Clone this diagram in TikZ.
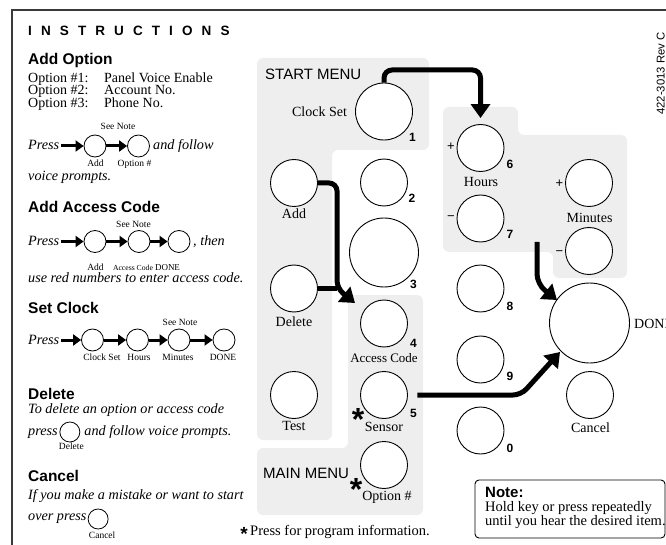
\documentclass[tikz,border=0pt]{standalone}
\usepackage{fontspec}
\setmainfont{Liberation Serif}
\newfontfamily\sansf{Liberation Sans}
\usetikzlibrary{arrows.meta,calc}
\definecolor{panelgray}{HTML}{EEEEEE}
\definecolor{framegray}{HTML}{3A3A3A}
\tikzset{
  btn/.style={circle,draw=black,line width=0.9pt,fill=white,inner sep=0pt,minimum size=47pt},
  mini/.style={circle,draw=black,line width=0.8pt,fill=white,inner sep=0pt,minimum size=22pt},
  blab/.style={font=\fontsize{14}{14}\selectfont,inner sep=0pt,anchor=base},
  slab/.style={font=\fontsize{9.5}{9.5}\selectfont,inner sep=0pt,anchor=base},
  numlab/.style={font=\sansf\bfseries\fontsize{12}{12}\selectfont,inner sep=0pt,anchor=base},
  pm/.style={font=\sansf\fontsize{13}{13}\selectfont,inner sep=0pt},
  menu/.style={font=\sansf\fontsize{15}{15}\selectfont,inner sep=0pt,anchor=base west},
  head/.style={font=\sansf\bfseries\fontsize{15.5}{15.5}\selectfont,inner sep=0pt,anchor=base west},
  body/.style={font=\fontsize{14.5}{14.5}\selectfont,inner sep=0pt,anchor=base west},
  itx/.style={font=\itshape\fontsize{14.2}{14.2}\selectfont,inner sep=0pt,anchor=base west},
  star/.style={font=\sansf\bfseries\fontsize{32}{32}\selectfont,inner sep=0pt,anchor=base},
  bigarrow/.style={line width=5pt,rounded corners=8pt,-{Triangle[length=14pt,width=19pt]}},
  miniarrow/.style={line width=3pt,-{Triangle[length=8pt,width=11pt]}},
  panelbox/.style={fill=panelgray,rounded corners=6pt},
}
\begin{document}
\begin{tikzpicture}[x=1pt,y=-1pt]
\useasboundingbox (0,0) rectangle (666,545);
% frame
\draw[framegray,line width=1.2pt] (12,545) -- (12,10) -- (666,10);
\node[font=\sansf\fontsize{11.3}{11.3}\selectfont,inner sep=0pt,rotate=90,anchor=base west] (rev) at (664.5,115) {422-3013 Rev C};

% ---------------- left instructions ----------------
\node[font=\sansf\bfseries\fontsize{13.5}{13.5}\selectfont,inner sep=0pt,anchor=base west] (instr) at (28,36)
  {I\kern9.1pt N\kern9.1pt S\kern9.1pt T\kern9.1pt R\kern9.1pt U\kern9.1pt C\kern9.1pt T\kern9.1pt I\kern9.1pt O\kern9.1pt N\kern9.1pt S};

\node[head] (h1) at (28,65) {Add Option};
\node[body,font=\fontsize{14}{14}\selectfont] (o1a) at (28,82.5) {Option \#1:};
\node[body,font=\fontsize{14}{14}\selectfont] (o1b) at (104,82.5) {Panel Voice Enable};
\node[body,font=\fontsize{14}{14}\selectfont] (o2a) at (28,95) {Option \#2:};
\node[body,font=\fontsize{14}{14}\selectfont] (o2b) at (104,95) {Account No.};
\node[body,font=\fontsize{14}{14}\selectfont] (o3a) at (28,107.5) {Option \#3:};
\node[body,font=\fontsize{14}{14}\selectfont] (o3b) at (104,107.5) {Phone No.};

% row 1
\node[slab] (sn1) at (118,130) {See Note};
\node[itx] (pr1) at (28,150) {Press};
\node[mini] (r1a) at (95,146) {};
\node[mini] (r1b) at (138.5,146) {};
\draw[miniarrow,shorten <=1.5pt] (pr1.east |- r1a) -- (r1a.west);
\draw[miniarrow] (r1a) -- (r1b);
\node[itx] (af1) at (153,150) {and follow};
\node[slab] (l1a) at (95.5,166.5) {Add};
\node[slab] (l1b) at (134.5,166.5) {Option \#};
\node[itx] (vp) at (28,181) {voice prompts.};

% row 2
\node[head] (h2) at (28,213) {Add Access Code};
\node[slab] (sn2) at (133.5,227.5) {See Note};
\node[itx] (pr2) at (28,246) {Press};
\node[mini] (r2a) at (95,241.5) {};
\node[mini] (r2b) at (139,241.5) {};
\node[mini] (r2c) at (179,241.5) {};
\draw[miniarrow,shorten <=1.5pt] (pr2.east |- r2a) -- (r2a.west);
\draw[miniarrow] (r2a) -- (r2b);
\draw[miniarrow] (r2b) -- (r2c);
\node[itx] (then) at (193,246) {, then};
\node[slab] (l2a) at (95.5,270) {Add};
\node[slab,font=\fontsize{7.7}{7.7}\selectfont] (l2b) at (133,270) {Access Code};
\node[slab,font=\fontsize{9}{9}\selectfont] (l2c) at (167.5,270) {DONE};
\node[itx] (urn) at (28,282) {use red numbers to enter access code.};

% row 3
\node[head] (h3) at (28,313) {Set Clock};
\node[slab] (sn3) at (180,325) {See Note};
\node[itx] (pr3) at (28,344) {Press};
\node[mini] (r3a) at (92.5,340) {};
\node[mini] (r3b) at (137.5,340) {};
\node[mini] (r3c) at (179,340) {};
\node[mini] (r3d) at (224,340) {};
\draw[miniarrow,shorten <=1.5pt] (pr3.east |- r3a) -- (r3a.west);
\draw[miniarrow] (r3a) -- (r3b);
\draw[miniarrow] (r3b) -- (r3c);
\draw[miniarrow] (r3c) -- (r3d);
\node[slab] (l3a) at (102,360) {Clock Set};
\node[slab] (l3b) at (139,360) {Hours};
\node[slab] (l3c) at (178,360) {Minutes};
\node[slab] (l3d) at (223,360) {DONE};

% delete
\node[head] (h4) at (28,399) {Delete};
\node[itx] (td) at (28,413) {To delete an option or access code};
\node[itx] (prd) at (28,435) {press};
\node[mini,minimum size=20pt] (cd) at ($(prd.base east)+(12,-3)$) {};
\node[itx] (afd) at ($(cd.east)+(4,3)$) {and follow voice prompts.};
\node[slab] (ld) at ($(cd)+(1.5,17)$) {Delete};

% cancel
\node[head] (h5) at (28,481) {Cancel};
\node[itx] (iy) at (28,499) {If you make a mistake or want to start};
\node[itx] (op) at (28,520) {over press};
\node[mini,minimum size=20pt] (cc) at ($(op.base east)+(11.5,-1)$) {};
\node[slab] (lc) at ($(cc)+(4,19)$) {Cancel};

% ---------------- panels ----------------
\fill[panelbox] (257,58) -- (429,58) -- (429,150) -- (332,150) -- (332,440) -- (257,440) -- cycle;
\fill[panelbox] (348,295) -- (423,295) -- (423,515) -- (257,515) -- (257,448) -- (348,448) -- cycle;
\fill[panelbox] (443,107) -- (518,107) -- (518,135) -- (627,135) -- (627,278) -- (553,278) -- (553,252) -- (443,252) -- cycle;

\node[menu] (startlbl) at (265,80) {START MENU};
\node[menu] (mainlbl) at (263,478) {MAIN MENU};

% ---------------- connector corners ----------------
\coordinate (c1) at (480.5,70);
\coordinate (jn) at (337,288.5);
\coordinate (tip4) at (355,303);
\coordinate (h0) at (537,242);
\coordinate (h1) at (537,284);
\coordinate (tipd) at (557,300);
\coordinate (s1) at (521,395);
\coordinate (tips) at (560,352);

% ---------------- buttons ----------------
\node[btn,minimum size=57pt] (b1) at (384,111.5) {};
\node[btn] (badd) at (294,183) {};
\node[btn] (b2) at (384,182.5) {};
\node[btn,minimum size=69pt] (b3) at (384,252.5) {};
\node[btn] (bdel) at (294,288.5) {};
\node[btn] (btest) at (294,395) {};
\node[btn] (b4) at (384,323.5) {};
\node[btn] (b5) at (384,395) {};
\node[btn] (bopt) at (384,465) {};
\node[btn] (b6) at (480.5,148) {};
\node[btn] (b7) at (480.5,218.5) {};
\node[btn] (bminp) at (589,183) {};
\node[btn] (bminm) at (589,251) {};
\node[btn] (b8) at (480.5,288.5) {};
\node[btn] (b9) at (480.5,359.5) {};
\node[btn] (b0) at (480.5,430.5) {};
\node[btn,minimum size=80pt] (bdone) at (589.5,323) {};
\node[btn] (bcancel) at (590,395) {};

\draw[bigarrow,shorten >=6pt] (b1.north) |- (c1) -- (b6.north);
\draw[line width=5pt] (bdel.east) -- (jn);
\draw[bigarrow] (badd.east) -| (jn) -- (tip4);
\draw[bigarrow,rounded corners=10pt] (h0) -- (h1) -- (tipd);
\draw[bigarrow,shorten <=9.5pt] (b5.east) -- (s1) -- (tips);

% button labels
\node[blab] (lclock) at (319.5,117) {Clock Set};
\node[blab] (ladd) at (294,219) {Add};
\node[blab] (ldel) at (294,326) {Delete};
\node[blab] (ltest) at (294,430) {Test};
\node[blab,font=\fontsize{13}{13}\selectfont] (lac) at (384,362) {Access Code};
\node[blab] (lsens) at (384,431) {Sensor};
\node[blab] (lopt) at (387,500) {Option \#};
\node[blab] (lhours) at (481,187) {Hours};
\node[blab] (lmin) at (589.5,223) {Minutes};
\node[blab] (lcan) at (590.5,432) {Cancel};
\node[blab,anchor=base west] (ldone) at (634,328) {DONE};

% numbers
\node[numlab] (n1) at ($(b1)+(28.5,30.5)$) {1};
\node[numlab] (n2) at ($(b2)+(28,20.5)$) {2};
\node[numlab] (n3) at ($(b3)+(29.5,35.5)$) {3};
\node[numlab] (n4) at ($(b4)+(29.5,23.5)$) {4};
\node[numlab] (n5) at ($(b5)+(29.5,22)$) {5};
\node[numlab] (n6) at ($(b6)+(29.5,21)$) {6};
\node[numlab] (n7) at ($(b7)+(29.5,20.5)$) {7};
\node[numlab] (n8) at ($(b8)+(29.5,21.5)$) {8};
\node[numlab] (n9) at ($(b9)+(29.5,20.5)$) {9};
\node[numlab] (n0) at ($(b0)+(29.5,21.5)$) {0};

% plus / minus
\node[pm] (p6) at ($(b6)+(-29.5,-1)$) {+};
\node[pm] (m7) at ($(b7)+(-29.5,0)$) {−};
\node[pm] (pmp) at ($(bminp)+(-29.5,1)$) {+};
\node[pm] (mmm) at ($(bminm)+(-29.5,2)$) {−};

% stars (glyph sits high on its baseline; box smashed)
\node[star] (st5) at (358,430) {\smash{*}};
\node[star] (sto) at (356,500) {\smash{*}};
\node[star,font=\sansf\bfseries\fontsize{19}{19}\selectfont] (stf) at (244,540.5) {\smash{*}};
\node[body] (foot) at (250,535) {Press for program information.};

% note
\node[draw=black,line width=0.9pt,rounded corners=4pt,minimum width=190pt,minimum height=58pt,inner sep=0pt] (notebox) at (570,509) {};
\node[head,font=\sansf\bfseries\fontsize{15}{15}\selectfont] (notet) at (485,497) {Note:};
\node[body] (note1) at (485,511) {Hold key or press repeatedly};
\node[body] (note2) at (485,525) {until you hear the desired item.};
\end{tikzpicture}
\end{document}
